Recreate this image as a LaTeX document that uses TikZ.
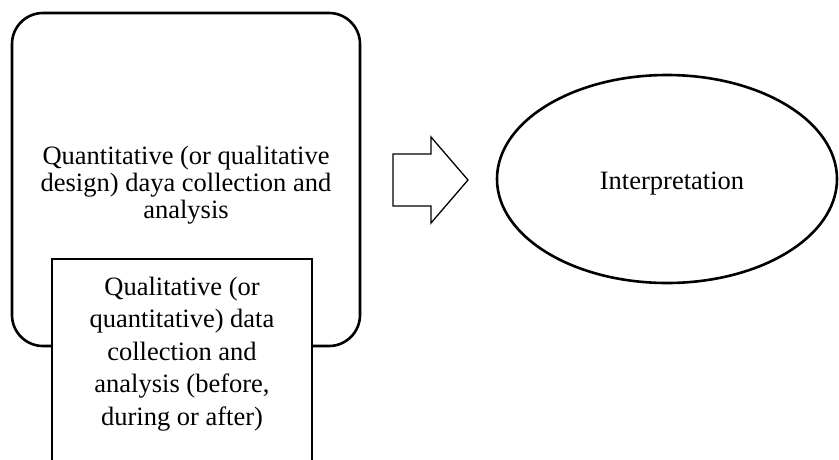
\documentclass[tikz,border=0pt]{standalone}
\usepackage{fontspec}
\setmainfont{Liberation Serif}
\usetikzlibrary{shapes.geometric}
\tikzset{
  txt/.style={font=\fontsize{26.5}{27}\selectfont, align=center, inner sep=0pt},
  inntxt/.style={font=\fontsize{26.5}{32.5}\selectfont, align=center, inner sep=0pt},
  outerbox/.style={draw, line width=2.6pt, rounded corners=31pt, minimum width=348pt, minimum height=333pt, inner sep=0pt},
  innerbox/.style={draw, fill=white, line width=2.2pt, minimum width=260pt, minimum height=222pt, inner sep=0pt},
  blockarrow/.style={draw, line width=1.3pt, line join=miter},
  oval/.style={draw, ellipse, line width=2.6pt, minimum width=340pt, minimum height=208pt, inner sep=0pt}
}
\begin{document}
\begin{tikzpicture}[x=1pt,y=-1pt]
\useasboundingbox (0,0) rectangle (839,459);
\clip (0,0) rectangle (839,459);
\node[outerbox] (outer) at (186,179.5) {};
\node[txt] (outertext) at (186,185) {Quantitative (or qualitative\\design) daya collection and\\analysis};
\node[innerbox] (inner) at (182,370) {};
\node[inntxt] (innertext) at (182,354) {Qualitative (or\\quantitative) data\\collection and\\analysis (before,\\during or after)};
\draw[blockarrow] (393,154) -- (431,154) -- (431,137) -- (468,180) -- (431,223) -- (431,206) -- (393,206) -- cycle;
\node[oval] (interp) at (667,179) {};
\node[txt] (interptext) at (672,184) {Interpretation};
\end{tikzpicture}
\end{document}
